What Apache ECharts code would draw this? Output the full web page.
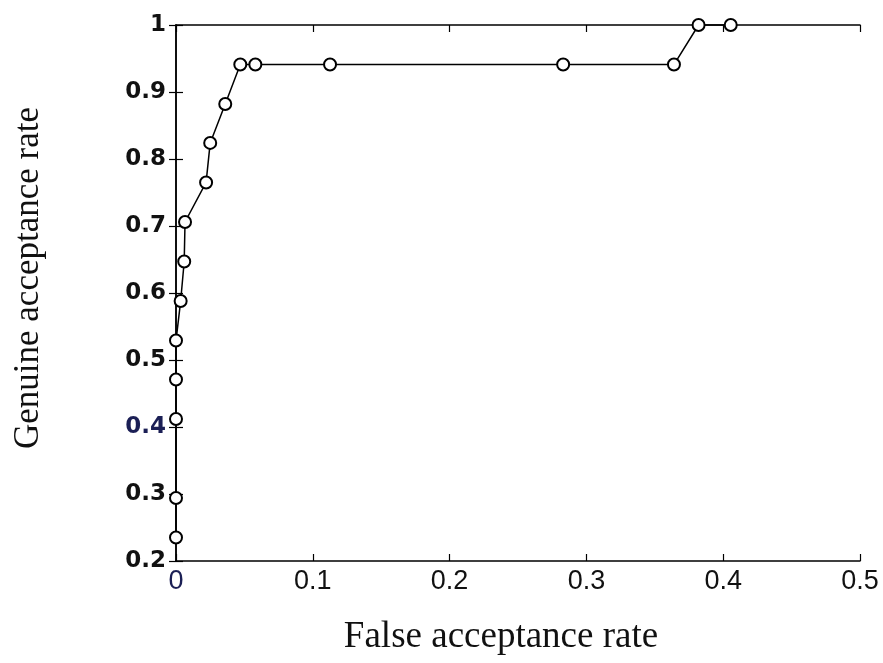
<!DOCTYPE html>
<html>
<head>
<meta charset="utf-8">
<style>
  html, body { margin: 0; padding: 0; background: #ffffff; }
  #chart { width: 883px; height: 663px; }
</style>
<script src="https://cdn.jsdelivr.net/npm/echarts@6/dist/echarts.min.js"></script>
</head>
<body>
<div id="chart"></div>
<script>
// ROC operating points: false acceptance rate vs genuine acceptance rate
const falseAcceptance = [0, 0, 0, 0, 0, 0.0034, 0.006, 0.0066, 0.022, 0.025, 0.036, 0.047, 0.058, 0.1126, 0.283, 0.364, 0.382, 0.4055];
const genuineAcceptance = [0.235, 0.294, 0.412, 0.471, 0.529, 0.588, 0.647, 0.706, 0.765, 0.824, 0.882, 0.941, 0.941, 0.941, 0.941, 0.941, 1.0, 1.0];
const xTicks = [0, 0.1, 0.2, 0.3, 0.4, 0.5];
const yTicks = [0.2, 0.3, 0.4, 0.5, 0.6, 0.7, 0.8, 0.9, 1];

const points = falseAcceptance.map((x, i) => [x, genuineAcceptance[i]]);

const xLabelFont = { fontFamily: 'Liberation Sans, Arial, sans-serif', fontSize: 27, color: '#111' };
const yLabelFont = { fontFamily: 'DejaVu Sans, sans-serif', fontSize: 23, fontWeight: 'bold', color: '#111' };
const titleFont = { fontFamily: 'Liberation Serif, Times New Roman, serif', color: '#111' };
const tickStyle = { show: true, inside: true, length: 7, lineStyle: { color: '#000', width: 1.2 } };
const lineStyle = { show: true, lineStyle: { color: '#000', width: 1.5 } };
const navy = '#1b1f55';

const chart = echarts.init(document.getElementById('chart'));
chart.setOption({
  backgroundColor: '#ffffff',
  animation: false,
  grid: { left: 176, right: 23, top: 25, bottom: 102, containLabel: false },
  xAxis: [
    {
      type: 'value', min: xTicks[0], max: xTicks[xTicks.length - 1], interval: 0.1,
      position: 'bottom',
      axisLine: lineStyle, axisTick: tickStyle, splitLine: { show: false },
      axisLabel: {
        ...xLabelFont, margin: 7,
        formatter: v => (v === 0 ? '{b|0}' : String(+v.toFixed(1))),
        rich: { b: { ...xLabelFont, color: navy } }
      },
      name: 'False acceptance rate', nameLocation: 'middle', nameGap: 58,
      nameTextStyle: { ...titleFont, fontSize: 37, padding: [0, 34, 0, 0] }
    },
    {
      type: 'value', min: xTicks[0], max: xTicks[xTicks.length - 1], interval: 0.1,
      position: 'top',
      axisLine: lineStyle, axisTick: tickStyle, axisLabel: { show: false }, splitLine: { show: false }
    }
  ],
  yAxis: [
    {
      type: 'value', min: yTicks[0], max: yTicks[yTicks.length - 1], interval: 0.1,
      position: 'left',
      axisLine: lineStyle, axisTick: tickStyle, splitLine: { show: false },
      axisLabel: {
        ...yLabelFont, margin: 10,
        formatter: v => {
          const s = String(+v.toFixed(1));
          return Math.abs(v - 0.4) < 1e-9 ? '{b|' + s + '}' : s;
        },
        rich: { b: { ...yLabelFont, color: navy } }
      },
      name: 'Genuine acceptance rate', nameLocation: 'middle', nameGap: 130, nameRotate: 90,
      nameTextStyle: { ...titleFont, fontSize: 35, padding: [0, 0, 0, 30] }
    },
    {
      type: 'value', min: yTicks[0], max: yTicks[yTicks.length - 1], interval: 0.1,
      position: 'right',
      axisLine: lineStyle, axisTick: tickStyle, axisLabel: { show: false }, splitLine: { show: false }
    }
  ],
  series: [
    {
      type: 'line',
      data: points,
      clip: false,
      symbol: 'emptyCircle',
      symbolSize: 12,
      lineStyle: { color: '#000', width: 1.5 },
      itemStyle: { color: '#000', borderColor: '#000', borderWidth: 1.3 }
    }
  ]
});
</script>
</body>
</html>
